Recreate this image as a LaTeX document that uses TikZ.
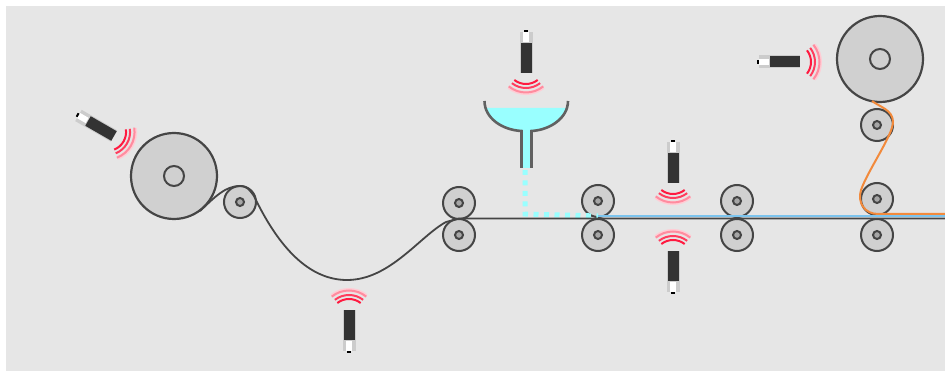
\documentclass[tikz,border=0pt]{standalone}
\definecolor{bgc}{HTML}{E6E6E6}
\definecolor{rollc}{HTML}{D0D0D0}
\definecolor{linec}{HTML}{454545}
\definecolor{waterc}{HTML}{99FFFF}
\definecolor{webblue}{HTML}{7CC4EE}
\definecolor{weborange}{HTML}{F28A3C}
\definecolor{redc}{HTML}{FF1A40}
\tikzset{
  bigroll/.style={circle,draw=linec,fill=rollc,line width=2.2pt,minimum size=86pt,inner sep=0pt},
  smallroll/.style={circle,draw=linec,fill=rollc,line width=2pt,minimum size=32pt,inner sep=0pt},
  bighub/.style={circle,draw=linec,fill=rollc,line width=2pt,minimum size=20pt,inner sep=0pt},
  smallhub/.style={circle,draw=linec,fill=gray!70,line width=2pt,minimum size=8pt,inner sep=0pt},
  webline/.style={draw=linec,line width=1.8pt},
  wave/.style={draw=redc,line width=2pt},
  sensor/.pic={
    \fill[gray!40] (-6.5,0) rectangle (6.5,-41);
    \fill[black!80] (-5.5,0) rectangle (5.5,-30);
    \fill[white] (-3,-31) rectangle (3,-41);
    \fill[black] (-2,-41) rectangle (2,-43);
    \draw[wave,draw=redc!22,line width=4pt] ({28*cos(232)},{-8-28*sin(232)}) arc[start angle=232,end angle=308,radius=28pt];
    \draw[wave,draw=redc!50] ({27.5*cos(231)},{-8-27.5*sin(231)}) arc[start angle=231,end angle=309,radius=27.5pt];
    \draw[wave] ({19*cos(232)},{-8-19*sin(232)}) arc[start angle=232,end angle=308,radius=19pt];
    \draw[wave,draw=redc!85] ({23*cos(232)},{-8-23*sin(232)}) arc[start angle=232,end angle=308,radius=23pt];
  }
}
\begin{document}
\begin{tikzpicture}[x=1pt,y=-1pt]
\useasboundingbox (0,0) rectangle (945,371);
\fill[bgc] (6,6) rectangle (945,371);
% funnel
\fill[waterc] (485,108) -- (567,108) .. controls (565,122) and (545,130) .. (533,131) -- (531,168) -- (522,168) -- (520,131) .. controls (505,130) and (488,122) .. (485,108) -- cycle;
\draw[draw=linec!85,line width=2.6pt] (484.5,101) .. controls (484.5,118) and (502,130) .. (521.5,131) -- (521.5,168);
\draw[draw=linec!85,line width=2.6pt] (568,101) .. controls (568,118) and (550,130) .. (531.5,131) -- (531.5,168);
% rollers
\node[bigroll] (rollA) at (174,176) {};
\node[bighub] (hubA) at (174,176) {};
\node[bigroll] (rollB) at (880,59) {};
\node[bighub] (hubB) at (880,59) {};
\foreach \n/\x/\y in {r1/240/202,r2/459/203,r3/459/235,r4/598/201,r5/598/235,r6/737/201,r7/737/235,r8/877/125,r9/877/199,r10/877/235}{
  \node[smallroll] (\n) at (\x,\y) {};
  \node[smallhub] at (\x,\y) {};
}
% coordinates
\coordinate (webstart) at (200,211);
\coordinate (webtop) at (240,186);
\coordinate (webdrop) at (254,196);
\coordinate (webbot) at (347,280);
\coordinate (nipA) at (459,218.5);
\coordinate (webend) at (945,218.5);
\coordinate (nipB) at (598,216);
\coordinate (blueend) at (945,216);
\coordinate (tapeA) at (872,101);
\coordinate (tapeB) at (893,122);
\coordinate (tapeC) at (861,190);
\coordinate (tapeD) at (878,214);
\coordinate (tapeend) at (945,214);
% dripped liquid
\draw[waterc,line width=5pt,dash pattern=on 5pt off 5.5pt] (525,170) -- (525,214) -- (nipB);
% web
\draw[webblue,line width=2.4pt] (nipB) -- (blueend);
\draw[weborange,line width=2pt] (tapeA) .. controls (880,107) and (893,110) .. (tapeB) .. controls (893,135) and (868,170) .. (tapeC) .. controls (857,203) and (865,214) .. (tapeD) -- (tapeend);
\draw[webline] (webstart) .. controls (215,197) and (225,186) .. (webtop) .. controls (248,186) and (250,191) .. (webdrop) .. controls (275,240) and (305,280) .. (webbot) .. controls (390,280) and (420,236) .. (446,222) -- (nipA) -- (webend);
% sensors
\pic[rotate=60] at (114,136) {sensor};
\pic[rotate=180] at (349,310) {sensor};
\pic at (526,73) {sensor};
\pic at (673,183) {sensor};
\pic[rotate=180] at (673,251) {sensor};
\pic[rotate=90] at (800,62) {sensor};
\end{tikzpicture}
\end{document}
